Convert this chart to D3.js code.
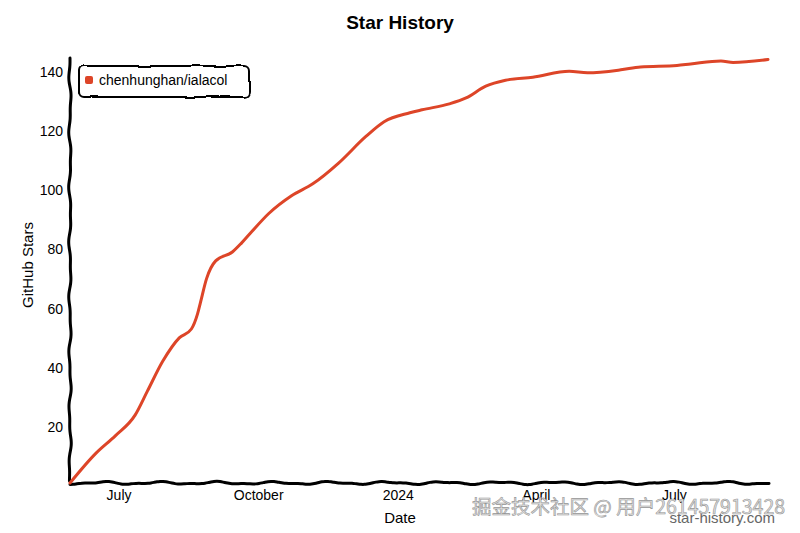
<!DOCTYPE html>
<html>
<head>
<meta charset="utf-8">
<script src="https://cdn.jsdelivr.net/npm/d3@7"></script>
<style>
  body { margin: 0; background: #fff; }
  svg { font-family: "Liberation Sans", Arial, sans-serif; }
</style>
</head>
<body>
<svg id="chart" width="800" height="533"></svg>
<script>
// star counts
var repoName = "chenhunghan/ialacol"
var dates = ["2023-05-30","2023-06-16","2023-06-29","2023-07-12","2023-07-20","2023-07-30",
  "2023-08-10","2023-08-18","2023-08-22","2023-08-24","2023-08-28","2023-09-03","2023-09-14",
  "2023-09-20","2023-09-27","2023-10-08","2023-10-23","2023-11-06","2023-11-23","2023-12-11",
  "2023-12-23","2024-01-09","2024-01-17","2024-02-04","2024-02-15","2024-02-28","2024-03-12",
  "2024-03-30","2024-04-23","2024-05-05","2024-05-27","2024-06-09","2024-07-03","2024-07-12",
  "2024-08-01","2024-08-09","2024-09-01"]
var stars = [0, 10, 16, 23, 31, 41,
  49, 52, 57, 61, 69, 75, 78,
  81, 85, 91, 97, 101, 108, 117,
  122, 125, 126, 128, 130, 134, 136,
  137, 139, 138.5, 139.5, 140.5, 141, 141.5,
  142.5, 142, 143]
var xTickDates = ["2023-07-01","2023-10-01","2024-01-01","2024-04-01","2024-07-01"]
var xTickLabels = ["July","October","2024","April","July"]
var yTicks = [20, 40, 60, 80, 100, 120, 140]

var parse = d3.timeParse("%Y-%m-%d")
var data = dates.map(function(d, i) { return {date: parse(d), value: stars[i]} })

var svg = d3.select("#chart")
var mLeft = 70, mRight = 770, mTop = 58, mBottom = 483
var lineColor = "#dd4528"

// small wobble for the legend box
var defs = svg.append("defs")
var f = defs.append("filter")
    .attr("id", "xkcdify")
    .attr("filterUnits", "userSpaceOnUse")
    .attr("x", -5).attr("y", -5)
    .attr("width", "100%").attr("height", "100%")
f.append("feTurbulence")
    .attr("type", "fractalNoise")
    .attr("baseFrequency", 0.05)
    .attr("result", "noise")
f.append("feDisplacementMap")
    .attr("scale", 4)
    .attr("xChannelSelector", "R")
    .attr("yChannelSelector", "G")
    .attr("in", "SourceGraphic")
    .attr("in2", "noise")

var x = d3.scaleTime()
    .domain([parse(dates[0]), parse(dates[dates.length - 1])])
    .range([mLeft, mRight - 2])
var y = d3.scaleLinear()
    .domain([0, 143.5])
    .range([mBottom, mTop])

// title
svg.append("text")
    .attr("x", 400).attr("y", 29)
    .attr("text-anchor", "middle")
    .style("font-size", "19px")
    .style("font-weight", "bold")
    .text("Star History")

// axes
var xAxis = svg.append("g")
    .attr("transform", "translate(0," + mBottom + ")")
    .call(d3.axisBottom(x)
      .tickValues(xTickDates.map(parse))
      .tickFormat(function(d, i) { return xTickLabels[i] })
      .tickSize(0)
      .tickPadding(4))
xAxis.select(".domain").remove()
xAxis.selectAll("text").style("font-size", "14px").attr("fill", "#000").attr("dy", "0.9em")

var yAxis = svg.append("g")
    .attr("transform", "translate(" + mLeft + ",0)")
    .call(d3.axisLeft(y)
      .tickValues(yTicks)
      .tickSize(0)
      .tickPadding(7))
yAxis.select(".domain").remove()
yAxis.selectAll("text").style("font-size", "14px").attr("fill", "#000").attr("dy", "0.55em")

// hand drawn axis lines: a gentle wave along the line
function wobble(len, seed) {
  var pts = []
  for (var t = 0; t <= len; t += 3) {
    var off = 1.1 * Math.sin(t / 9 + seed) + 0.6 * Math.sin(t / 4.3 + seed * 2)
    pts.push([t, off])
  }
  return pts
}
var wave = d3.line().curve(d3.curveBasis)
svg.append("path")
    .attr("d", wave(wobble(mRight - mLeft, 1).map(function(p) { return [mLeft + p[0], mBottom + p[1]] })))
    .attr("fill", "none").attr("stroke", "#000").attr("stroke-width", 3).attr("stroke-linecap", "round")
svg.append("path")
    .attr("d", wave(wobble(mBottom - mTop, 3).map(function(p) { return [mLeft + p[1] * 0.8, mTop + p[0]] })))
    .attr("fill", "none").attr("stroke", "#000").attr("stroke-width", 3).attr("stroke-linecap", "round")

// axis titles
svg.append("text")
    .attr("x", 400).attr("y", 523)
    .attr("text-anchor", "middle")
    .style("font-size", "15px")
    .text("Date")
svg.append("text")
    .attr("transform", "translate(33,265) rotate(-90)")
    .attr("text-anchor", "middle")
    .style("font-size", "15px")
    .text("GitHub Stars")

// the line
var line = d3.line()
    .x(function(d) { return x(d.date) })
    .y(function(d) { return y(d.value) })
    .curve(d3.curveMonotoneX)
svg.append("path")
    .datum(data)
    .attr("d", line)
    .attr("fill", "none")
    .attr("stroke", lineColor)
    .attr("stroke-width", 3)
    .attr("stroke-linecap", "round")
    .attr("stroke-linejoin", "round")

// legend
var legend = svg.append("g")
legend.append("rect")
    .attr("x", 79).attr("y", 66)
    .attr("width", 170).attr("height", 31)
    .attr("rx", 5)
    .attr("fill", "#fff")
    .attr("stroke", "#000")
    .attr("stroke-width", 2)
    .attr("filter", "url(#xkcdify)")
legend.append("rect")
    .attr("x", 85).attr("y", 76)
    .attr("width", 8).attr("height", 8)
    .attr("rx", 2)
    .attr("fill", lineColor)
legend.append("text")
    .attr("x", 99).attr("y", 85)
    .style("font-size", "14px")
    .text(repoName)

// watermarks
svg.append("text")
    .attr("x", 775).attr("y", 523)
    .attr("text-anchor", "end")
    .attr("fill", "#666")
    .style("font-size", "15px")
    .text("star-history.com")
svg.append("text")
    .attr("x", 472).attr("y", 514)
    .attr("fill", "#e2e2e2")
    .attr("stroke", "#969696")
    .attr("stroke-width", 0.6)
    .style("font-family", "'Noto Sans CJK SC', sans-serif")
    .style("font-size", "19.5px")
    .text("掘金技术社区 @ 用户261457913428")
</script>
</body>
</html>
